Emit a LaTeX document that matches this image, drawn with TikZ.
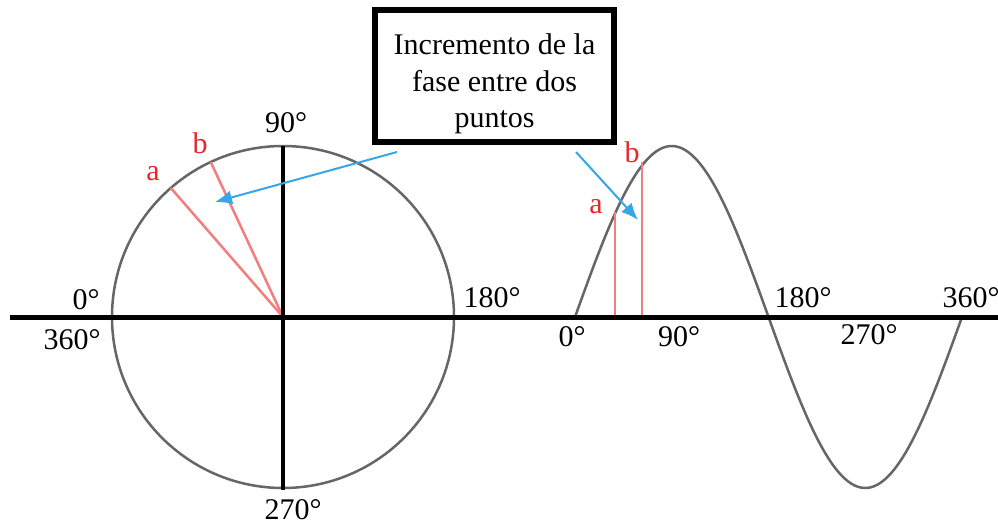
\documentclass[tikz,border=0pt]{standalone}
\usepackage{fontspec}
\setmainfont{Liberation Serif}
\usepackage{xcolor}
\usetikzlibrary{arrows.meta,positioning,calc}
\definecolor{ink}{HTML}{000000}
\definecolor{ringgray}{HTML}{666666}
\definecolor{phasered}{HTML}{F27E7E}
\definecolor{labelred}{HTML}{E8262C}
\definecolor{pointer}{HTML}{36A6E6}

\begin{document}
\begin{tikzpicture}[x=1pt,y=-1pt,every node/.style={font=\fontsize{30}{36.5}\selectfont,inner sep=0pt},axis/.style={draw=ink,line width=5pt},ring/.style={draw=ringgray,line width=2.5pt},phase/.style={draw=phasered,line width=2.5pt},pt/.style={text=labelred},arr/.style={-{Latex[length=17pt,width=14pt]},draw=pointer,fill=pointer,line width=2pt},note/.style={draw=ink,line width=6pt,align=center,minimum width=239pt,minimum height=132pt}]
\useasboundingbox (0,0) rectangle (998,527);
\coordinate (c) at (283,317);\coordinate (west) at (10,317);\coordinate (east) at (998,317);
\coordinate (top) at (283,146);\coordinate (bot) at (283,490);
\draw[ring] (c) circle[radius=171];
\draw[ring] plot[domain=0:360,samples=120,smooth] ({575+\x*1.075},{317-171*sin(\x)});
\coordinate (pa) at ($(c)+(-131:171)$);\coordinate (pb) at ($(c)+(-115:171)$);
\draw[phase] (c) -- (pa);\draw[phase] (c) -- (pb);
\coordinate (sa) at (615,317);\coordinate (sat) at (615,212);
\coordinate (sb) at (642,317);\coordinate (sbt) at (642,162);
\draw[phase] (sa) -- (sat);\draw[phase] (sb) -- (sbt);
\draw[axis] (west) -- (east);
\draw[ink,line width=4.5pt] (top) -- (bot);
\node[note] (note) at (494.5,76) {\rule{0pt}{37pt}Incremento de la\\fase entre dos\\puntos};
\coordinate (fromc) at (397,152);\coordinate (toc) at (215,202);
\coordinate (froms) at (576,152);\coordinate (tos) at (638,220);
\draw[arr] (fromc) -- (toc);\draw[arr] (froms) -- (tos);
\node (c90) at (286,123) {90°};
\node (c0) at (86,300) {0°};
\node (c360) at (72,340) {360°};
\node (c180) at (492,298) {180°};
\node (c270) at (293,510) {270°};
\node[pt] (ca) at (153,174) {a};
\node[pt] (cb) at (200,143) {b};
\node (s0) at (572,337) {0°};
\node (s90) at (679,337) {90°};
\node (s180) at (803,298) {180°};
\node (s270) at (869,335) {270°};
\node (s360) at (971,298) {360°};
\node[pt] (sla) at (596,207) {a};
\node[pt] (slb) at (632,152) {b};
\end{tikzpicture}
\end{document}
